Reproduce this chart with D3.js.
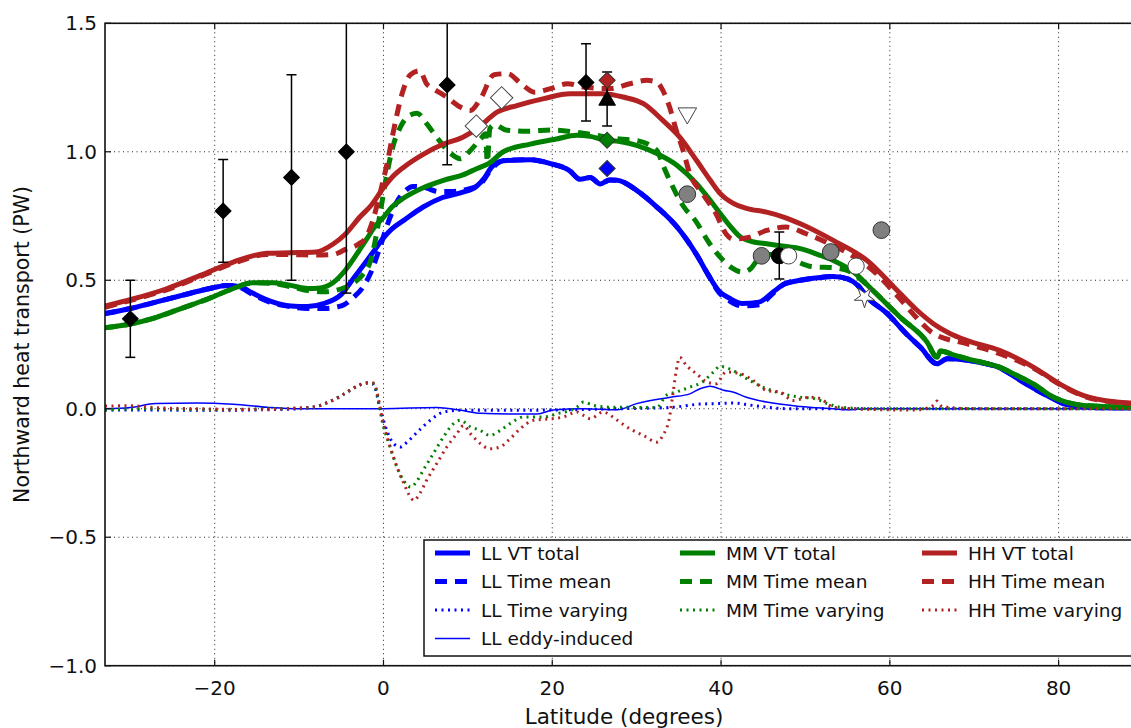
<!DOCTYPE html>
<html>
<head>
<meta charset="utf-8">
<script src="https://cdn.jsdelivr.net/npm/d3@7"></script>
<style>
  html, body { margin: 0; padding: 0; background: #fff; }
  svg { display: block; font-family: "DejaVu Sans", sans-serif; }
</style>
</head>
<body>
<svg id="chart" width="1131" height="728"></svg>
<script>
// ---- Model heat transport curves: [latitude, PW] ----
const llTotal = [[-33,0.37],[-30,0.39],[-27,0.415],[-24,0.44],[-21,0.465],[-18.5,0.48],[-17,0.475],[-15.5,0.45],[-13.5,0.42],[-11,0.40],[-9,0.398],[-7,0.41],[-5,0.445],[-3.5,0.51],[-2,0.575],[-1,0.62],[0,0.665],[1,0.70],[2.4,0.733],[4.7,0.785],[7,0.822],[9.4,0.843],[11,0.865],[12,0.9],[12.8,0.94],[14.2,0.965],[17.4,0.969],[19.8,0.954],[22,0.928],[23.3,0.893],[24.5,0.90],[25.7,0.875],[26.8,0.89],[27.7,0.889],[30,0.85],[32.4,0.785],[34.8,0.707],[37.1,0.60],[38.5,0.52],[39.7,0.46],[41,0.43],[42.5,0.41],[44.5,0.415],[46.2,0.455],[47.5,0.485],[49.4,0.50],[51.5,0.51],[53.3,0.515],[55,0.505],[56.2,0.48],[57.3,0.435],[59.7,0.37],[62,0.29],[63.6,0.24],[65.6,0.175],[66.8,0.195],[69,0.19],[71,0.178],[73,0.16],[75,0.12],[77,0.08],[79,0.045],[81,0.015],[84,0.005],[90,0.003]];
const llMean = [[-33,0.37],[-30,0.39],[-27,0.415],[-24,0.44],[-21,0.465],[-18.5,0.48],[-17,0.472],[-15.5,0.445],[-13.5,0.415],[-11,0.397],[-9,0.39],[-7,0.39],[-5,0.40],[-3.5,0.435],[-2.5,0.47],[-1.5,0.53],[-0.5,0.62],[0.5,0.72],[1.5,0.80],[2.5,0.845],[3.5,0.865],[5,0.86],[6.5,0.845],[8,0.845],[10,0.855],[11.5,0.875],[12.5,0.92],[13.5,0.955],[14.5,0.967],[17.4,0.969],[19.8,0.954],[22,0.928],[23.3,0.893],[24.5,0.90],[25.7,0.875],[26.8,0.89],[27.7,0.889],[30,0.85],[32.4,0.785],[34.8,0.707],[37.1,0.60],[38.5,0.52],[39.7,0.455],[41,0.42],[42.5,0.40],[44.5,0.405],[46.2,0.45],[47.5,0.485],[49.4,0.50],[51.5,0.51],[53.3,0.515],[55,0.505],[56.2,0.48],[57.3,0.435],[59.7,0.37],[62,0.29],[63.6,0.24],[65.6,0.175],[66.8,0.195],[69,0.19],[71,0.178],[73,0.16],[75,0.12],[77,0.08],[79,0.045],[81,0.015],[84,0.005],[90,0.003]];
const llVarying = [[-33,-0.005],[-28,-0.005],[-20,-0.006],[-14,-0.004],[-10,0.0],[-8,0.008],[-6.8,0.022],[-5.3,0.045],[-4.3,0.065],[-3.1,0.088],[-2,0.1],[-1.2,0.095],[-0.4,0.0],[0.4,-0.085],[1.2,-0.136],[2,-0.149],[2.8,-0.13],[4,-0.091],[5.5,-0.046],[7.1,-0.013],[9,-0.006],[15,-0.006],[22,-0.004],[28,0.0],[34,0.005],[37.5,0.018],[39.5,0.02],[41.4,0.022],[43.5,0.014],[45.4,0.006],[48,0.0],[60,0.0],[90,0.0]];
const llEddy = [[-33,0.0],[-30,0.005],[-27,0.02],[-22,0.022],[-17.8,0.017],[-13.8,0.006],[-10,0.0],[0,0.0],[6.3,0.005],[9,-0.005],[11.5,-0.018],[15,-0.02],[18.2,-0.02],[20.1,-0.005],[23.7,0.0],[27.7,-0.004],[30,0.02],[34,0.045],[36.3,0.058],[37.5,0.078],[38.7,0.088],[40.3,0.072],[41.4,0.065],[43,0.045],[45.4,0.026],[49.4,0.009],[53.3,0.0],[55,-0.004],[57.3,0.0],[90,0.0]];

const mmTotal = [[-33,0.315],[-30,0.33],[-27,0.355],[-24,0.39],[-21,0.425],[-18,0.465],[-15.5,0.49],[-13,0.49],[-11,0.48],[-9,0.468],[-7.5,0.47],[-6,0.49],[-4.5,0.54],[-3,0.61],[-2,0.66],[-1,0.71],[0,0.745],[1,0.785],[2.4,0.82],[4.7,0.86],[7.1,0.889],[9.4,0.91],[11.1,0.935],[12.5,0.955],[14.2,1.0],[17.4,1.03],[20.5,1.05],[22.9,1.064],[24.5,1.06],[26,1.047],[28,1.04],[30,1.025],[32.4,0.993],[34.8,0.947],[37.1,0.876],[38.5,0.82],[39.9,0.76],[41.1,0.71],[42.3,0.668],[44,0.648],[45.4,0.642],[47.5,0.632],[49.4,0.623],[51.5,0.60],[53.3,0.577],[55.7,0.532],[58,0.46],[61.2,0.357],[64.4,0.26],[65.6,0.20],[66,0.225],[67.5,0.21],[69.1,0.195],[71,0.18],[73,0.162],[75,0.13],[77,0.097],[79.4,0.045],[81,0.025],[83,0.013],[86,0.008],[90,0.005]];
const mmMean = [[-33,0.315],[-30,0.33],[-27,0.355],[-24,0.39],[-21,0.425],[-18,0.465],[-15.5,0.49],[-13,0.487],[-11,0.475],[-9,0.46],[-7,0.455],[-5,0.467],[-3.5,0.49],[-2.5,0.52],[-1.5,0.58],[-1,0.65],[-0.3,0.78],[0.5,0.93],[1.2,1.03],[2,1.096],[3,1.14],[4,1.15],[5.1,1.11],[6.3,1.057],[7.9,0.995],[9.1,0.973],[10.3,1.005],[11.5,1.05],[12.1,1.07],[12.3,0.96],[12.6,1.09],[13.2,1.105],[14.5,1.085],[17,1.08],[20,1.085],[23,1.075],[26,1.06],[28,1.05],[30,1.044],[32.4,1.005],[33.1,0.95],[33.9,0.89],[35.5,0.79],[37,0.73],[38.5,0.65],[39.9,0.59],[41.2,0.55],[42.5,0.532],[43.5,0.545],[44.5,0.585],[45.8,0.60],[48.1,0.584],[50.8,0.553],[53.6,0.548],[55.5,0.53],[56.5,0.505],[58,0.46],[61.2,0.357],[64.4,0.26],[65.6,0.20],[66,0.225],[67.5,0.21],[69.1,0.195],[71,0.18],[73,0.162],[75,0.13],[77,0.097],[79.4,0.045],[81,0.025],[83,0.013],[86,0.008],[90,0.005]];
const mmVarying = [[-33,-0.005],[-28,0.0],[-20,-0.004],[-14,0.0],[-10,0.002],[-8,0.008],[-6.8,0.022],[-5.3,0.045],[-4.3,0.065],[-3.1,0.088],[-2,0.1],[-1.2,0.097],[0,-0.07],[0.8,-0.15],[1.6,-0.227],[2.4,-0.28],[3.2,-0.305],[4,-0.28],[4.7,-0.24],[5.9,-0.175],[7.1,-0.11],[8.3,-0.058],[9.1,-0.045],[10.3,-0.07],[11.5,-0.085],[12.6,-0.104],[13.8,-0.085],[15,-0.058],[16.6,-0.032],[19,-0.032],[20.5,-0.02],[22.9,0.006],[23.7,0.026],[24.9,0.013],[26.9,0.006],[32.4,0.005],[33.5,0.052],[34.7,0.065],[36.3,0.084],[37.8,0.104],[39,0.14],[39.9,0.165],[40.6,0.16],[41.4,0.149],[43.4,0.11],[45.4,0.078],[47.3,0.058],[49.4,0.045],[51,0.04],[52.6,0.02],[54.1,0.006],[58,0.0],[90,0.0]];

const hhTotal = [[-33,0.40],[-29.6,0.428],[-25.7,0.467],[-21.7,0.519],[-17.8,0.571],[-13.8,0.605],[-11,0.607],[-8,0.61],[-6,0.64],[-4.5,0.68],[-2.8,0.746],[-1.5,0.79],[0,0.86],[1,0.90],[2.4,0.94],[4.7,0.99],[7.1,1.03],[9.4,1.057],[11.1,1.09],[13.5,1.155],[15.8,1.18],[19,1.207],[22.1,1.226],[26,1.226],[28.4,1.213],[30.8,1.187],[33.1,1.122],[35.1,1.057],[37.1,0.966],[38.7,0.89],[39.9,0.837],[41.4,0.80],[43,0.78],[45.4,0.765],[47.5,0.745],[49.4,0.72],[53.3,0.655],[57.3,0.577],[60.5,0.473],[63,0.39],[65.2,0.33],[67,0.295],[69.1,0.266],[73,0.227],[77,0.162],[80.1,0.097],[82.9,0.052],[86.8,0.026],[90,0.02]];
const hhMean = [[-33,0.395],[-29.6,0.425],[-25.7,0.463],[-21.7,0.515],[-17.8,0.566],[-13.8,0.60],[-11,0.60],[-8,0.598],[-6,0.60],[-4.5,0.62],[-3,0.64],[-2,0.67],[-1.2,0.74],[-0.4,0.84],[0.4,0.95],[1.2,1.083],[2.2,1.226],[3.2,1.30],[4.3,1.315],[5.1,1.265],[5.9,1.246],[7.5,1.213],[9.1,1.174],[10.3,1.161],[11.5,1.207],[13.1,1.30],[14.7,1.304],[16.3,1.265],[17.9,1.232],[19.8,1.246],[21.8,1.265],[23.7,1.252],[26.9,1.246],[29.2,1.265],[31.2,1.278],[32.4,1.271],[33.1,1.239],[33.9,1.174],[34.7,1.083],[35.5,1.005],[36.3,0.915],[37.8,0.837],[39.4,0.759],[40.6,0.68],[41.4,0.66],[43.4,0.668],[45.4,0.694],[47.7,0.707],[50.1,0.681],[52.4,0.649],[54.8,0.61],[58,0.538],[61.2,0.428],[63,0.36],[65.2,0.292],[69.1,0.253],[73,0.214],[77,0.158],[80.1,0.095],[82.9,0.05],[86.8,0.025],[90,0.02]];
const hhVarying = [[-33,0.01],[-30,0.012],[-27,0.004],[-22,0.0],[-15,-0.003],[-10,0.003],[-8,0.008],[-6.8,0.022],[-5.3,0.045],[-4.3,0.065],[-3.1,0.088],[-2,0.1],[-1.2,0.1],[0,-0.058],[0.8,-0.15],[1.6,-0.227],[2.4,-0.29],[3.2,-0.344],[3.6,-0.357],[4.3,-0.33],[5.1,-0.279],[6.3,-0.214],[7.5,-0.149],[8.7,-0.097],[9.5,-0.065],[10.3,-0.097],[11.5,-0.136],[12.6,-0.156],[13.8,-0.149],[15,-0.117],[16.2,-0.078],[17.8,-0.045],[19.8,-0.039],[21.3,-0.032],[22.9,-0.013],[23.7,-0.026],[24.5,-0.039],[26,-0.013],[27.7,-0.045],[29.2,-0.078],[30.8,-0.104],[32.4,-0.13],[33.1,-0.104],[33.9,-0.032],[34.3,0.058],[34.7,0.149],[35.1,0.2],[35.9,0.168],[37.1,0.136],[38.3,0.104],[39.4,0.097],[40.6,0.143],[42.3,0.136],[43.8,0.11],[45.4,0.071],[47,0.065],[48.5,0.032],[50.5,0.045],[51.7,0.04],[53.3,0.006],[58,-0.003],[63,-0.005],[65,0.01],[65.6,0.03],[66.2,0.008],[70,0.0],[90,0.0]];

// ---- Observational estimates ----
// hydrographic section estimates with uncertainty: [lat, value, low, high]
const sectionEstimates = [[-30,0.35,0.2,0.5],[-19,0.77,0.57,0.97],[-10.9,0.90,0.5,1.3],[-4.4,1.0,0.45,1.6],[7.55,1.26,0.95,1.6],[24,1.27,1.12,1.42]];
const rapidEstimate = [[26.5,1.20,1.10,1.31]];
const modelAt265 = [[26.5,0.935,"#0000ff"],[26.5,1.045,"#008000"],[26.5,1.278,"#b22222"]];
const openDiamonds = [[11,1.10],[14,1.21]];
const openTriangles = [[36,1.15]];
const greyCircles = [[36,0.835],[44.8,0.595],[53,0.61],[59,0.695]];
const blackCircles = [[46.9,0.595,0.505,0.688]];
const openCircles = [[48,0.595],[56,0.555]];
const openStars = [[57,0.435]];

// ---- Axis ticks ----
const xTicks = [-20,0,20,40,60,80];
const yTicks = [-1.0,-0.5,0.0,0.5,1.0,1.5];

// ---- Layout ----
const svg = d3.select("#chart");
const x0 = 105, x1 = 1143, y0 = 23.3, y1 = 665.7;
const x = d3.scaleLinear().domain([-33, 90]).range([x0, x1]);
const y = d3.scaleLinear().domain([-1.0, 1.5]).range([y1, y0]);

svg.append("defs").append("clipPath").attr("id", "plotClip")
  .append("rect").attr("x", x0).attr("y", y0).attr("width", x1 - x0).attr("height", y1 - y0);

// grid
const grid = svg.append("g").attr("stroke", "#222").attr("stroke-width", 1).attr("stroke-dasharray", "1,3.5");
grid.selectAll(".gx").data(xTicks).join("line")
  .attr("x1", d => x(d)).attr("x2", d => x(d)).attr("y1", y0).attr("y2", y1);
grid.selectAll(".gy").data(yTicks).join("line")
  .attr("y1", d => y(d)).attr("y2", d => y(d)).attr("x1", x0).attr("x2", x1);

const plot = svg.append("g").attr("clip-path", "url(#plotClip)");
const line = d3.line().x(d => x(d[0])).y(d => y(d[1])).curve(d3.curveMonotoneX);

const styles = {
  total:   { w: 5,   dash: null },
  mean:    { w: 5,   dash: "12,8" },
  varying: { w: 3,   dash: "2,4.5" },
  eddy:    { w: 1.5, dash: null }
};
const BLUE = "#0000ff", GREEN = "#008000", RED = "#b22222";
const series = [
  { name: "LL VT total", data: llTotal, color: BLUE, s: "total" },
  { name: "LL Time mean", data: llMean, color: BLUE, s: "mean" },
  { name: "LL Time varying", data: llVarying, color: BLUE, s: "varying" },
  { name: "LL eddy-induced", data: llEddy, color: BLUE, s: "eddy" },
  { name: "MM VT total", data: mmTotal, color: GREEN, s: "total" },
  { name: "MM Time mean", data: mmMean, color: GREEN, s: "mean" },
  { name: "MM Time varying", data: mmVarying, color: GREEN, s: "varying" },
  { name: "HH VT total", data: hhTotal, color: RED, s: "total" },
  { name: "HH Time mean", data: hhMean, color: RED, s: "mean" },
  { name: "HH Time varying", data: hhVarying, color: RED, s: "varying" }
];

series.forEach(sr => {
  const st = styles[sr.s];
  plot.append("path").datum(sr.data)
    .attr("d", line)
    .attr("fill", "none")
    .attr("stroke", sr.color)
    .attr("stroke-width", st.w)
    .attr("stroke-linejoin", "round")
    .attr("stroke-dasharray", st.dash);
});

// error bars
function errorBars(data, capHalf) {
  const g = plot.append("g").attr("stroke", "#000").attr("stroke-width", 1.5);
  data.forEach(d => {
    g.append("line").attr("x1", x(d[0])).attr("x2", x(d[0])).attr("y1", y(d[2])).attr("y2", y(d[3]));
    [d[2], d[3]].forEach(v => g.append("line")
      .attr("x1", x(d[0]) - capHalf).attr("x2", x(d[0]) + capHalf)
      .attr("y1", y(v)).attr("y2", y(v)));
  });
}
errorBars(sectionEstimates, 5);
errorBars(rapidEstimate, 5);
errorBars(blackCircles, 5);

const sym = (type, size) => d3.symbol().type(type).size(size)();
function markers(data, type, size, fill, stroke, rot) {
  plot.append("g").selectAll("path").data(data).join("path")
    .attr("d", sym(type, size))
    .attr("transform", d => `translate(${x(d[0])},${y(d[1])})` + (rot ? ` rotate(${rot})` : ""))
    .attr("fill", fill)
    .attr("stroke", stroke)
    .attr("stroke-width", 1);
}
// black diamonds
markers(sectionEstimates, d3.symbolSquare, 125, "#000", "#000", 45);
// RAPID triangle
markers(rapidEstimate, d3.symbolTriangle, 120, "#000", "#000", 0);
// model values at 26.5N
plot.append("g").selectAll("path").data(modelAt265).join("path")
  .attr("d", sym(d3.symbolSquare, 130))
  .attr("transform", d => `translate(${x(d[0])},${y(d[1])}) rotate(45)`)
  .attr("fill", d => d[2]).attr("stroke", "#333").attr("stroke-width", 1);
markers(openDiamonds, d3.symbolSquare, 250, "#fff", "#444", 45);
markers(openTriangles, d3.symbolTriangle, 150, "#fff", "#444", 180);
markers(greyCircles, d3.symbolCircle, 220, "#808080", "#333", 0);
markers(blackCircles, d3.symbolCircle, 200, "#000", "#000", 0);
markers(openCircles, d3.symbolCircle, 210, "#fff", "#444", 0);
markers(openStars, d3.symbolStar, 130, "#fff", "#444", 180);

// spines
const frame = svg.append("g").attr("stroke", "#111").attr("stroke-width", 1.6).attr("fill", "none");
frame.append("rect").attr("x", x0).attr("y", y0).attr("width", x1 - x0).attr("height", y1 - y0);

// inward ticks on all four sides
const tk = svg.append("g").attr("stroke", "#111").attr("stroke-width", 1.2);
xTicks.forEach(t => {
  tk.append("line").attr("x1", x(t)).attr("x2", x(t)).attr("y1", y1).attr("y2", y1 - 6);
  tk.append("line").attr("x1", x(t)).attr("x2", x(t)).attr("y1", y0).attr("y2", y0 + 6);
});
yTicks.forEach(t => {
  tk.append("line").attr("x1", x0).attr("x2", x0 + 6).attr("y1", y(t)).attr("y2", y(t));
  tk.append("line").attr("x1", x1).attr("x2", x1 - 6).attr("y1", y(t)).attr("y2", y(t));
});

const fmtMinus = s => s.replace("-", "\u2212");
svg.append("g").selectAll("text").data(xTicks).join("text")
  .attr("x", d => x(d)).attr("y", 695)
  .attr("text-anchor", "middle").attr("font-size", 20).attr("fill", "#111")
  .text(d => fmtMinus(String(d)));
svg.append("g").selectAll("text").data(yTicks).join("text")
  .attr("x", 97).attr("y", d => y(d) + 7)
  .attr("text-anchor", "end").attr("font-size", 20).attr("fill", "#111")
  .text(d => fmtMinus(d.toFixed(1)));

svg.append("text").attr("x", (x0 + x1) / 2).attr("y", 724)
  .attr("text-anchor", "middle").attr("font-size", 21.5).attr("fill", "#111")
  .text("Latitude (degrees)");
svg.append("text").attr("transform", `translate(29,${(y0 + y1) / 2}) rotate(-90)`)
  .attr("text-anchor", "middle").attr("font-size", 20.5).attr("fill", "#111")
  .text("Northward heat transport (PW)");

// legend: three columns, filled column by column
const legend = svg.append("g");
legend.append("rect").attr("x", 424).attr("y", 540).attr("width", 760).attr("height", 116)
  .attr("fill", "#fff").attr("stroke", "#111").attr("stroke-width", 1.5);
const colX = [435, 680, 922];
const rowY = [553, 581.5, 610, 638.5];
const columns = [series.slice(0, 4), series.slice(4, 7), series.slice(7, 10)];
columns.forEach((col, ci) => {
  col.forEach((sr, ri) => {
    const st = styles[sr.s];
    legend.append("line")
      .attr("x1", colX[ci]).attr("x2", colX[ci] + 35)
      .attr("y1", rowY[ri]).attr("y2", rowY[ri])
      .attr("stroke", sr.color).attr("stroke-width", st.w)
      .attr("stroke-dasharray", st.dash);
    legend.append("text")
      .attr("x", colX[ci] + 46).attr("y", rowY[ri] + 6.5)
      .attr("font-size", 18.5).attr("fill", "#111")
      .text(sr.name);
  });
});
</script>
</body>
</html>
